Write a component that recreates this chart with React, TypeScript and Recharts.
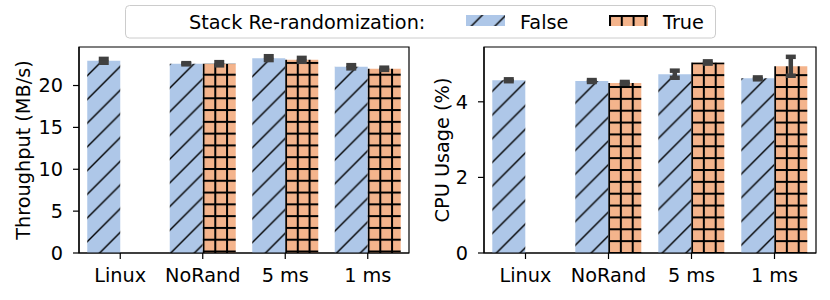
import React from 'react';
import { BarChart, Bar, XAxis, YAxis, ErrorBar, ReferenceArea } from 'recharts';

const categories = ['Linux', 'NoRand', '5 ms', '1 ms'];
const throughputFalse = [22.95, 22.6, 23.27, 22.24];
const throughputTrue = [null, 22.6, 23.07, 22.0];
const throughputFalseErr = [0.23, 0.07, 0.23, 0.19];
const throughputTrueErr = [null, 0.19, 0.23, 0.13];
const cpuFalse = [4.57, 4.55, 4.73, 4.62];
const cpuTrue = [null, 4.5, 5.04, 4.94];
const cpuFalseErr = [0.025, 0.025, 0.094, 0.025];
const cpuTrueErr = [null, 0.025, 0.03, 0.25];
const throughputTicks = [0, 5, 10, 15, 20];
const cpuTicks = [0, 2, 4];
const legendTitle = 'Stack Re-randomization:';
const seriesLabels = ['False', 'True'];

const FONT = 'DejaVu Sans';
const FS = 19.3;
const BLUE = '#aec7e8';
const ORANGE = '#f4b48c';
const ERR = '#404040';
const DIAG = 23.7;

const buildRows = (f: (number | null)[], t: (number | null)[], fe: (number | null)[], te: (number | null)[]) =>
  categories.map((name, i) => ({ name, f: f[i], t: t[i], fe: fe[i], te: te[i] }));

const throughputRows = buildRows(throughputFalse, throughputTrue, throughputFalseErr, throughputTrueErr);
const cpuRows = buildRows(cpuFalse, cpuTrue, cpuFalseErr, cpuTrueErr);

function Patterns({ prefix, diagPhase, gridX, gridP }: { prefix: string; diagPhase: number; gridX: number; gridP: number }) {
  const P = DIAG;
  return (
    <defs>
      <pattern id={`${prefix}-f`} patternUnits="userSpaceOnUse" x={diagPhase} y={0} width={P} height={P}>
        <rect width={P} height={P} fill={BLUE} />
        <path
          d={`M0,${P} L${P},0 M${-P / 2},${P / 2} L${P / 2},${-P / 2} M${P / 2},${1.5 * P} L${1.5 * P},${P / 2}`}
          stroke="#000"
          strokeWidth={1.4}
        />
      </pattern>
      <pattern id={`${prefix}-t`} patternUnits="userSpaceOnUse" x={gridX} y={3} width={gridP} height={gridP}>
        <rect width={gridP} height={gridP} fill={ORANGE} />
        <rect width={2} height={gridP} fill="#000" />
        <rect width={gridP} height={2} fill="#000" />
      </pattern>
    </defs>
  );
}

type PanelProps = {
  rows: any[];
  ticks: number[];
  domain: [number, number];
  label: string;
  labelOffset: number;
  yWidth: number;
  rightMargin: number;
  prefix: string;
  diagPhase: number;
};

function Panel({ rows, ticks, domain, label, labelOffset, yWidth, rightMargin, prefix, diagPhase }: PanelProps) {
  const W = 415;
  const plotW = W - yWidth - rightMargin;
  const band = plotW / categories.length;
  const gridP = band / 7;
  const gridX = yWidth + band + 8 + 33;
  const tickStyle = { fill: '#000', fontSize: FS, fontFamily: FONT };
  return (
    <BarChart
      width={W}
      height={300}
      data={rows}
      margin={{ top: 47, right: rightMargin, bottom: 17, left: 0 }}
      barCategoryGap="10%"
      barGap={0}
    >
      <Patterns prefix={prefix} diagPhase={diagPhase} gridX={gridX} gridP={gridP} />
      <XAxis
        dataKey="name"
        height={30}
        interval={0}
        tickSize={6}
        tickMargin={9.3}
        tick={tickStyle}
        axisLine={{ stroke: '#000', strokeWidth: 1.2 }}
        tickLine={{ stroke: '#000', strokeWidth: 1.2 }}
      />
      <YAxis
        width={yWidth}
        domain={domain}
        ticks={ticks}
        tickSize={6}
        tickMargin={10}
        tick={tickStyle}
        axisLine={{ stroke: '#000', strokeWidth: 1.2 }}
        tickLine={{ stroke: '#000', strokeWidth: 1.2 }}
        label={{
          value: label,
          angle: -90,
          position: 'insideLeft',
          offset: labelOffset,
          style: { textAnchor: 'middle', fill: '#000', fontSize: FS, fontFamily: FONT },
        }}
      />
      <Bar dataKey="f" fill={`url(#${prefix}-f)`} isAnimationActive={false}>
        <ErrorBar dataKey="fe" width={5} strokeWidth={4.5} stroke={ERR} direction="y" />
      </Bar>
      <Bar dataKey="t" fill={`url(#${prefix}-t)`} isAnimationActive={false}>
        <ErrorBar dataKey="te" width={5} strokeWidth={4.5} stroke={ERR} direction="y" />
      </Bar>
      <ReferenceArea
        x1={categories[0]}
        x2={categories[categories.length - 1]}
        y1={domain[0]}
        y2={domain[1]}
        fill="none"
        fillOpacity={0}
        stroke="#000"
        strokeWidth={1.2}
        ifOverflow="visible"
      />
    </BarChart>
  );
}

function LegendBox() {
  const P = DIAG;
  return (
    <svg width={830} height={45} style={{ position: 'absolute', left: 0, top: 0, pointerEvents: 'none' }}>
      <defs>
        <pattern id="lg-f" patternUnits="userSpaceOnUse" x={23.4} y={0} width={P} height={P}>
          <rect width={P} height={P} fill={BLUE} />
          <path
            d={`M0,${P} L${P},0 M${-P / 2},${P / 2} L${P / 2},${-P / 2} M${P / 2},${1.5 * P} L${1.5 * P},${P / 2}`}
            stroke="#000"
            strokeWidth={1.4}
          />
        </pattern>
        <pattern id="lg-t" patternUnits="userSpaceOnUse" x={609} y={15} width={11.8} height={11.8}>
          <rect width={11.8} height={11.8} fill={ORANGE} />
          <rect width={2} height={11.8} fill="#000" />
          <rect width={11.8} height={2} fill="#000" />
        </pattern>
      </defs>
      <rect x={125.5} y={5.5} width={590} height={32.5} rx={4} fill="#fff" fillOpacity={0.8} stroke="#cccccc" strokeWidth={1} />
      <text x={189} y={28.5} fontFamily={FONT} fontSize={FS} fill="#000">{legendTitle}</text>
      <rect x={466} y={15} width={39} height={11} fill="url(#lg-f)" />
      <text x={520} y={28.5} fontFamily={FONT} fontSize={FS} fill="#000">{seriesLabels[0]}</text>
      <rect x={609} y={15} width={39} height={11} fill="url(#lg-t)" />
      <text x={663} y={28.5} fontFamily={FONT} fontSize={FS} fill="#000">{seriesLabels[1]}</text>
    </svg>
  );
}

export default function App() {
  return (
    <div style={{ position: 'absolute', left: 0, top: 0, width: 830, height: 300, background: '#fff' }}>
      <div style={{ position: 'absolute', left: 0, top: 0 }}>
        <Panel
          rows={throughputRows}
          ticks={throughputTicks}
          domain={[0, 24.6]}
          label="Throughput (MB/s)"
          labelOffset={23}
          yWidth={79}
          rightMargin={6}
          prefix="tp"
          diagPhase={20.8}
        />
      </div>
      <div style={{ position: 'absolute', left: 415, top: 0 }}>
        <Panel
          rows={cpuRows}
          ticks={cpuTicks}
          domain={[0, 5.45]}
          label="CPU Usage (%)"
          labelOffset={27}
          yWidth={69}
          rightMargin={14}
          prefix="cpu"
          diagPhase={2.6}
        />
      </div>
      <LegendBox />
    </div>
  );
}
